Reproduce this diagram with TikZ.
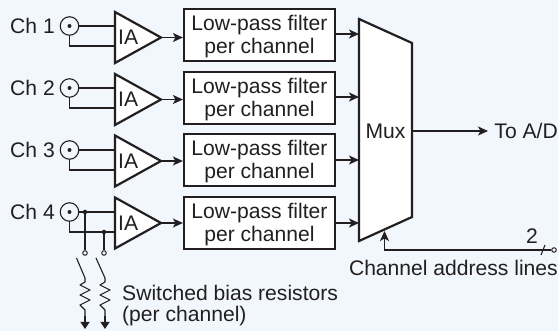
\documentclass[tikz,border=0pt]{standalone}
\usepackage{fontspec}
\setmainfont{Liberation Sans}
\usetikzlibrary{arrows.meta,calc}
\definecolor{bg}{HTML}{F1F7FC}
\definecolor{ink}{HTML}{231F20}
\tikzset{
  x=1pt,y=-1pt,
  every node/.style={text=ink,font=\fontsize{21.1}{23.5}\selectfont,inner sep=0pt},
  wire/.style={draw=ink,line width=1.1pt},
  thick shape/.style={draw=ink,line width=2.2pt,fill=white,line join=miter},
  sig/.style={wire,-{Stealth[length=10pt,width=9pt,inset=2.5pt]}},
  gnd/.style={wire,-{Triangle[length=7pt,width=9pt]}},
  dot/.style={circle,fill=ink,minimum size=4.5pt},
  port/.style={circle,draw=ink,line width=1pt,fill=bg,minimum size=4.5pt},
  filterbox/.style={thick shape,minimum width=151pt,minimum height=52pt},
  filtertext/.style={align=center},
  jack/.style={circle,draw=ink,line width=1.1pt,minimum size=18.5pt},
}
\begin{document}
\begin{tikzpicture}
\useasboundingbox (0,0) rectangle (558,331);
\fill[bg] (0,0) rectangle (558,331);

% Multiplexer
\draw[thick shape] (359,19) -- (412,43) -- (412,217) -- (359,241) -- cycle;
\node (mux) at (385.5,131) {Mux};
\coordinate (muxout) at (412,131);

\foreach \i/\lab/\cy/\ty/\fy/\iy in {1/Ch 1/26/37.5/35/34, 2/Ch 2/88/99.5/98/97, 3/Ch 3/150/161/160/160, 4/Ch 4/212/223/223/223}{
  \node[anchor=west] (lab\i) at (10,\cy) {\lab};
  \node[jack] (jack\i) at (69.5,\cy) {};
  \node[dot,minimum size=4pt] (pin\i) at (69.5,\cy) {};
  \coordinate (ia\i a) at (115,\cy);
  \coordinate (ia\i b) at (115,\cy+20);
  \draw[wire] (jack\i.east) -- (ia\i a);
  \draw[wire] (jack\i.south) -- (69.5,\cy+20) -- (ia\i b);
  \draw[thick shape] (115,\ty-25.5) -- (161,\ty) -- (115,\ty+25.5) -- cycle;
  \node[anchor=west] (ialab\i) at (118,\ty) {IA};
  \coordinate (iaout\i) at (161,\ty);
  \node[filterbox] (filter\i) at (259.5,\fy) {};
  \node[filtertext] (ftext\i) at (259.5,\fy+1.5) {Low-pass filter\\per channel};
  \draw[sig] (iaout\i) -- (filter\i.west |- iaout\i);
  \coordinate (muxin\i) at (359,\iy);
  \draw[sig] (filter\i.east |- muxin\i) -- (muxin\i);
}

% Output
\node[anchor=east] (toad) at (558,131) {To A/D};
\coordinate (toadin) at (488,131);
\draw[sig] (muxout) -- (toadin);

% Channel address
\node[port] (addr) at (554,250) {};
\coordinate (addrin) at (384.5,231);
\draw[sig] (addr.west) -- (384.5,250) -- (addrin);
\coordinate (slasha) at (541,255);
\coordinate (slashb) at (545,245);
\draw[wire] (slasha) -- (slashb);
\node (two) at (532,236) {2};
\node[anchor=east] (addrlab) at (558,268) {Channel address lines};

% Switched bias resistors
\node[dot] (j1) at (85,212) {};
\node[dot] (j2) at (104,232) {};
\node[port] (c1) at (85,253) {};
\node[port] (c2) at (104,253) {};
\draw[wire] (j1) -- (c1);
\draw[wire] (j2) -- (c2);
\foreach \n/\x/\sx in {1/85/76.5,2/105/96}{
  \coordinate (sw\n) at (\sx,258);
  \coordinate (g\n) at (\x,329);
  \draw[wire,line join=round] (sw\n) -- (\x,278) -- (\x,282)
    -- (\x-5,285) -- (\x+5,290) -- (\x-5,295) -- (\x+5,300) -- (\x-5,305) -- (\x,310) -- (\x,318);
  \draw[gnd] (\x,316) -- (g\n);
}
\node[anchor=west] (sw) at (122,293) {Switched bias resistors};
\node[anchor=west] (per) at (122,316) {(per channel)};
\end{tikzpicture}
\end{document}
